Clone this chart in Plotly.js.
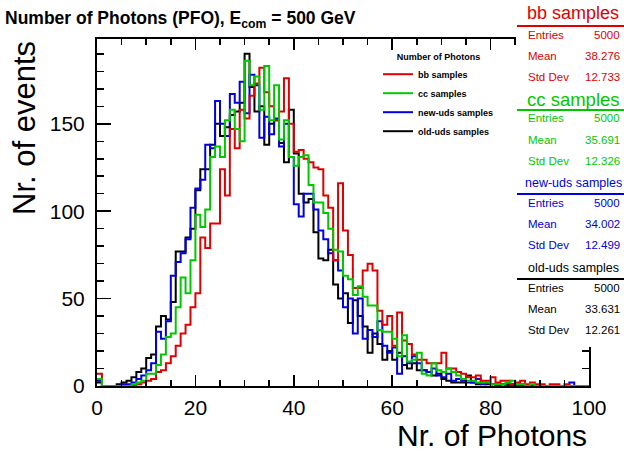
<!DOCTYPE html>
<html>
<head>
<meta charset="utf-8">
<script src="https://cdn.plot.ly/plotly-3.0.1.min.js"></script>
<style>html,body{margin:0;padding:0;background:#fff;}#chart{width:624px;height:452px;}</style>
</head>
<body>
<div id="chart"></div>
<script>
// ---- data (counts per bin, 100 bins of width 1 from 0 to 100) ----
const binWidth = 1;
const seriesNames = ["bb samples", "cc samples", "new-uds samples", "old-uds samples"];
const seriesColors = ["#e00000", "#00c800", "#0000e0", "#000000"];

const bbCounts = [7,0,0,0,0,0,0,0,1,2,3,4,8,9,13,17,23,30,35,45,
  53,85,79,93,93,124,109,147,136,158,153,166,173,182,168,160,152,157,176,150,
  134,135,130,128,125,124,109,102,72,116,89,75,56,56,66,70,66,43,35,40,
  23,42,26,24,18,15,15,13,13,13,19,10,10,8,7,5,5,6,3,3,
  5,2,3,3,1,2,3,1,2,1,1,0,1,1,0,1,0,0,0,0];
const ccCounts = [4,0,0,0,0,0,0,1,2,3,7,7,12,18,28,30,45,62,53,72,
  98,91,101,131,137,131,152,158,147,140,186,172,177,158,183,152,172,141,152,131,
  126,131,132,115,105,105,99,90,78,77,63,61,52,57,51,46,46,32,31,31,
  27,17,29,14,15,19,7,6,13,9,8,10,8,6,4,3,3,2,2,2,
  1,1,1,2,3,1,1,0,1,0,0,0,0,0,0,0,0,0,0,0];
const newUdsCounts = [3,0,0,0,0,1,1,2,4,6,9,13,31,27,37,63,71,76,84,102,
  113,118,138,136,163,150,143,167,162,174,156,178,172,142,154,144,153,137,150,131,
  104,97,110,110,101,89,84,76,72,66,45,50,30,50,27,32,28,37,23,19,
  22,7,17,13,17,13,9,8,10,6,5,7,3,4,3,2,2,4,1,2,
  1,1,1,0,1,0,1,0,0,0,0,0,0,0,0,0,2,0,0,0];
const oldUdsCounts = [2,0,0,0,1,2,3,5,8,10,16,18,34,40,38,48,77,77,85,90,
  112,124,124,138,150,143,148,155,157,162,190,171,157,160,138,150,152,139,128,158,
  133,110,105,107,88,73,72,78,58,50,53,36,49,40,34,19,30,24,15,20,
  15,19,12,10,13,9,9,8,6,7,4,3,2,2,2,6,2,1,2,1,
  1,0,1,1,0,1,0,0,0,0,0,0,0,0,0,0,0,0,0,0];

const statEntries = ["5000", "5000", "5000", "5000"];
const statMeans = ["38.276", "35.691", "34.002", "33.631"];
const statStdDevs = ["12.733", "12.326", "12.499", "12.261"];

const xTickVals = [0, 20, 40, 60, 80, 100];
const yTickVals = [0, 50, 100, 150];

// ---- build traces ----
const allCounts = [bbCounts, ccCounts, newUdsCounts, oldUdsCounts];
function stepTrace(counts, idx) {
  const xs = [], ys = [];
  for (let i = 0; i < counts.length; i++) { xs.push(i * binWidth); ys.push(counts[i]); }
  xs.push(counts.length * binWidth); ys.push(counts[counts.length - 1]);
  return {
    type: "scatter", mode: "lines", x: xs, y: ys, name: seriesNames[idx],
    line: {shape: "hv", color: seriesColors[idx], width: 2},
    legendrank: idx + 1, hoverinfo: "skip"
  };
}
const drawOrder = [3, 2, 0, 1];
const traces = drawOrder.map(i => stepTrace(allCounts[i], i));

// ---- pixel helpers for overlay elements ----
const L = 97, R = 589, T = 39, B = 386;
const px = x => (x - L) / (R - L);
const py = y => (B - y) / (B - T);

const FONT = "Liberation Sans, Arial, Helvetica, sans-serif";
const annotations = [];
const shapes = [];

// white stats column
shapes.push({type: "rect", xref: "paper", yref: "paper", x0: px(516), x1: px(625), y0: py(347), y1: py(-2),
  fillcolor: "#ffffff", line: {width: 0}, layer: "above"});

const headerY = [13, 99, 183, 268];
const headerSize = [18, 18.5, 12.5, 12.5];
const lineY = [26, 110, 194, 279];
const rowY = [[35, 56, 77], [118, 140, 161], [203, 224, 245], [288, 309, 330]];
for (let k = 0; k < 4; k++) {
  annotations.push({xref: "paper", yref: "paper", x: px(573), y: py(headerY[k]), xanchor: "center", yanchor: "middle",
    text: seriesNames[k], showarrow: false, font: {family: FONT, size: headerSize[k], color: seriesColors[k]}});
  shapes.push({type: "line", xref: "paper", yref: "paper", x0: px(517), x1: px(624), y0: py(lineY[k]), y1: py(lineY[k]),
    line: {color: seriesColors[k], width: 2}, layer: "above"});
  const labels = ["Entries", "Mean", "Std Dev"];
  const vals = [statEntries[k], statMeans[k], statStdDevs[k]];
  for (let r = 0; r < 3; r++) {
    annotations.push({xref: "paper", yref: "paper", x: px(526), y: py(rowY[k][r]), xanchor: "left", yanchor: "middle",
      text: labels[r], showarrow: false, font: {family: FONT, size: 11.5, color: seriesColors[k]}});
    annotations.push({xref: "paper", yref: "paper", x: px(622), y: py(rowY[k][r]), xanchor: "right", yanchor: "middle",
      text: vals[r], showarrow: false, font: {family: FONT, size: 11.5, color: seriesColors[k]}});
  }
}

// axis titles
annotations.push({xref: "paper", yref: "paper", x: 1, y: py(435), xanchor: "right", yanchor: "middle",
  text: "Nr. of Photons", showarrow: false, font: {family: FONT, size: 30, color: "#000"}});
annotations.push({xref: "paper", yref: "paper", x: px(24), y: 1, xanchor: "center", yanchor: "top", textangle: -90,
  text: "Nr. of events", showarrow: false, font: {family: FONT, size: 31, color: "#000"}});

const layout = {
  width: 624, height: 452,
  margin: {l: L, r: 624 - R, t: T, b: 452 - B, pad: 0},
  paper_bgcolor: "#ffffff", plot_bgcolor: "#ffffff",
  showlegend: true,
  title: {text: "<b>Number of Photons (PFO), E<sub>com</sub> = 500 GeV</b>", x: 5 / 624, xanchor: "left",
    xref: "container", yref: "container", y: 1 - 18 / 452, yanchor: "middle",
    font: {family: FONT, size: 17.5, color: "#000"}},
  xaxis: {range: [0, 100], tickvals: xTickVals, ticktext: xTickVals.map(String),
    ticks: "inside", ticklen: 11, tickwidth: 1.5, tickcolor: "#000",
    minor: {dtick: 5, ticks: "inside", ticklen: 6, tickwidth: 1.5, tickcolor: "#000", showgrid: false},
    showline: true, linewidth: 2, linecolor: "#000", mirror: "allticks",
    showgrid: false, zeroline: false, fixedrange: true,
    tickfont: {family: FONT, size: 21, color: "#000"}, ticklabelstandoff: 2},
  yaxis: {range: [0, 198.5], tickvals: yTickVals, ticktext: yTickVals.map(String),
    ticks: "inside", ticklen: 14, tickwidth: 1.5, tickcolor: "#000",
    minor: {dtick: 10, ticks: "inside", ticklen: 7, tickwidth: 1.5, tickcolor: "#000", showgrid: false},
    showline: true, linewidth: 2, linecolor: "#000", mirror: "allticks",
    showgrid: false, zeroline: false, fixedrange: true,
    tickfont: {family: FONT, size: 21, color: "#000"}, ticklabelstandoff: 6},
  legend: {x: px(378), y: py(48), xanchor: "left", yanchor: "top",
    bgcolor: "rgba(255,255,255,0)", borderwidth: 0,
    font: {family: FONT, size: 9, color: "#000", weight: "bold"},
    title: {text: "Number of Photons", side: "top center", font: {family: FONT, size: 9, color: "#000", weight: "bold"}},
    itemwidth: 30, traceorder: "normal"},
  shapes: shapes,
  annotations: annotations
};

Plotly.newPlot("chart", traces, layout, {staticPlot: true, displayModeBar: false});
</script>
</body>
</html>
